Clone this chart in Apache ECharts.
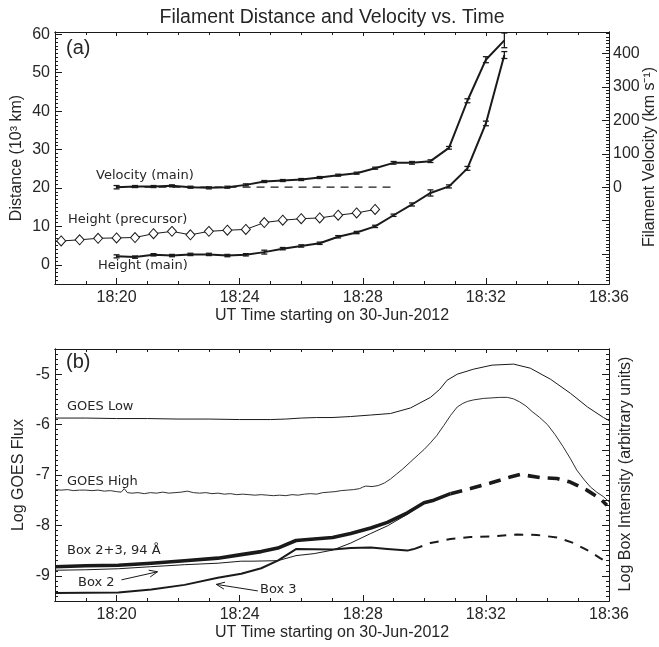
<!DOCTYPE html>
<html>
<head>
<meta charset="utf-8">
<script src="https://cdn.jsdelivr.net/npm/echarts@6/dist/echarts.min.js"></script>
<style>
  html, body { margin: 0; padding: 0; background: #fff; }
  #chart { width: 659px; height: 647px; }
</style>
</head>
<body>
<div id="chart"></div>
<script>
// ---- Panel (a): filament height and velocity, time in minutes after 18:00 UT ----
const mainTimes = [20.0, 20.6, 21.2, 21.8, 22.4, 23.0, 23.6, 24.2, 24.8, 25.4, 26.0,
                   26.6, 27.2, 27.8, 28.4, 29.0, 29.6, 30.2, 30.8, 31.4, 32.0, 32.6];
const heightMain = [2.2, 2.0, 2.6, 2.4, 2.7, 2.7, 2.4, 2.6, 3.3, 4.2, 4.9,
                    5.6, 7.3, 8.4, 10.0, 12.9, 15.7, 18.7, 20.4, 25.1, 36.8, 54.6];
const heightMainErr = [0.4, 0.3, 0.3, 0.3, 0.3, 0.3, 0.3, 0.3, 0.5, 0.3, 0.3,
                       0.3, 0.3, 0.3, 0.3, 0.3, 0.4, 0.8, 0.4, 0.5, 0.6, 0.9];
const velMain = [0, 2, 2, 4, 0, -2, 0, 7, 17, 20, 23,
                 29, 36, 42, 57, 73, 73, 78, 118, 259, 382, 440];
const velMainErr = [5, 3, 3, 3, 3, 3, 3, 3, 3, 3, 3,
                    3, 3, 3, 3, 4, 4, 4, 4, 6, 9, 22];
const preTimes = [18.2, 18.8, 19.4, 20.0, 20.6, 21.2, 21.8, 22.4, 23.0,
                  23.6, 24.2, 24.8, 25.4, 26.0, 26.6, 27.2, 27.8, 28.4];
const heightPre = [6.2, 6.5, 6.9, 7.0, 7.1, 8.1, 8.7, 7.8, 8.7,
                   9.0, 9.2, 11.0, 11.6, 12.0, 12.2, 12.9, 13.5, 14.4];
const zeroVelTimes = [20.0, 28.9];
const zeroVelVals = [0, 0];

// ---- Panel (b): GOES flux and box intensities (log) ----
const goesLowT = [18, 19, 20, 21, 22, 23, 24, 25, 25.5, 26, 26.5, 27, 27.6, 28.26, 28.9,
                  29.55, 30.2, 30.5, 30.74, 31.07, 31.6, 32.2, 32.9, 33.44, 34.1, 34.75,
                  35.3, 35.82, 36];
const goesLowV = [-5.87, -5.87, -5.88, -5.88, -5.89, -5.89, -5.90, -5.90, -5.89, -5.87,
                  -5.86, -5.86, -5.84, -5.81, -5.78, -5.67, -5.46, -5.30, -5.12, -5.00,
                  -4.90, -4.82, -4.80, -4.88, -5.10, -5.38, -5.65, -5.86, -5.92];
const goesHighT = [18.0, 18.2, 18.4, 18.6, 18.8, 19.0, 19.2, 19.4, 19.6, 19.8, 20.0,
                   20.15, 20.25, 20.35,
                   20.5, 20.7, 20.9, 21.1, 21.3, 21.5, 21.7, 21.9, 22.1, 22.3, 22.5, 22.7,
                   22.9, 23.1, 23.3, 23.5, 23.7, 23.9, 24.1, 24.3, 24.5, 24.7, 24.9, 25.1,
                   25.3, 25.5, 25.7, 25.9, 26.1, 26.3, 26.5, 26.7, 26.9, 27.1, 27.3, 27.5,
                   27.7, 27.9,
                   28.0, 28.1, 28.3, 28.5, 28.7, 28.9, 29.1, 29.3,
                   29.55, 29.8, 30.0, 30.2, 30.4, 30.63, 30.85, 31.07, 31.25, 31.4, 31.6, 31.93,
                   32.2, 32.45, 32.7, 32.9, 33.1, 33.3, 33.5, 33.75, 34.0, 34.25, 34.5, 34.75,
                   34.95, 35.2, 35.4, 35.6, 35.82, 36.0];
const goesHighV = [-7.29, -7.30, -7.29, -7.31, -7.30, -7.30, -7.31, -7.30, -7.32, -7.31, -7.33,
                   -7.34, -7.27, -7.35,
                   -7.36, -7.35, -7.37, -7.35, -7.36, -7.34, -7.36, -7.35, -7.34, -7.32, -7.35, -7.36,
                   -7.35, -7.37, -7.36, -7.38, -7.37, -7.39, -7.38, -7.39, -7.40, -7.39, -7.40, -7.41,
                   -7.40, -7.41, -7.39, -7.40, -7.38, -7.37, -7.38, -7.35, -7.34, -7.33, -7.31, -7.30,
                   -7.29, -7.27,
                   -7.24, -7.22, -7.23, -7.21, -7.16, -7.08, -6.98, -6.88,
                   -6.74, -6.60, -6.49, -6.36, -6.22, -6.02, -5.82, -5.65, -5.58, -5.54, -5.51, -5.48,
                   -5.47, -5.46, -5.46, -5.49, -5.55, -5.63, -5.74, -5.86, -6.00, -6.20, -6.43, -6.68,
                   -6.90, -7.10, -7.24, -7.34, -7.43, -7.53];
const box23T = [18.0, 19.0, 20.06, 21.13, 22.21, 23.29, 24.05, 24.7, 25.24, 25.83,
                26.42, 27.02, 27.61, 28.26, 28.8, 29.45, 29.99, 30.31, 30.85];
const box23V = [-8.82, -8.80, -8.79, -8.75, -8.70, -8.65, -8.58, -8.52, -8.45, -8.30,
                -8.27, -8.24, -8.16, -8.05, -7.94, -7.75, -7.55, -7.50, -7.37];
const box23DashT = [30.85, 31.5, 32.15, 32.79, 33.12, 33.77, 34.31, 34.74, 35.28, 35.71, 35.93];
const box23DashV = [-7.37, -7.27, -7.16, -7.04, -6.99, -7.05, -7.07, -7.14, -7.30, -7.47, -7.60];
const box2T = [18.0, 19.0, 20.06, 21.1, 22.2, 23.3, 24.05, 24.4, 25.24, 25.83,
               26.42, 27.02, 27.61, 28.26, 28.8, 29.45, 29.99, 30.3];
const box2V = [-8.89, -8.88, -8.86, -8.82, -8.78, -8.75, -8.71, -8.71, -8.70, -8.60,
               -8.56, -8.49, -8.35, -8.16, -8.01, -7.78, -7.56, -7.51];
const box3T = [18.0, 20.06, 21.13, 22.21, 23.29, 24.05, 24.7, 25.24, 25.83,
               27.02, 27.61, 28.26, 28.8, 29.45, 29.66];
const box3V = [-9.34, -9.33, -9.27, -9.18, -9.04, -8.96, -8.85, -8.70, -8.47,
               -8.48, -8.45, -8.44, -8.47, -8.50, -8.47];
const box3DashT = [29.66, 30.2, 30.85, 31.5, 32.15, 33.01, 33.66, 34.31, 34.85, 35.38, 35.71, 35.9];
const box3DashV = [-8.47, -8.35, -8.27, -8.23, -8.22, -8.18, -8.19, -8.24, -8.35, -8.52, -8.65, -8.72];

// Label arrows: [t start, value start, t tip, value tip]
const box2Arrow = [20.16, -9.08, 21.33, -8.92];
const box3Arrow = [24.59, -9.30, 23.24, -9.17];

// ---- Axis tick values ----
const majorMinutes = [20, 24, 28, 32, 36];
const distTicks = [0, 10, 20, 30, 40, 50, 60];
const velTicks = [-200, -100, 0, 100, 200, 300, 400];
const velLabels = [0, 100, 200, 300, 400];
const fluxTicks = [-9, -8, -7, -6, -5];
const boxTicks = [-9.5, -9, -8.5, -8, -7.5, -7, -6.5, -6, -5.5, -5, -4.5];

const INK = '#1a1a1a';
const TXT = '#262626';
const SANS = '"Liberation Sans", Arial, sans-serif';
const LBL = '"DejaVu Sans", sans-serif';

const zip = (xs, ys) => xs.map((x, i) => [x, ys[i]]);

function xAxesFor(grid) {
  const base = {
    gridIndex: grid, type: 'value', min: 18, max: 36,
    splitLine: { show: false },
    axisLine: { show: true, onZero: false, lineStyle: { color: INK, width: 1 } }
  };
  const tick = (len, extra) => Object.assign({ inside: true, length: len, lineStyle: { color: INK, width: 1 } }, extra || {});
  return [
    Object.assign({}, base, { position: 'bottom', interval: 1, axisTick: tick(3), axisLabel: { show: false } }),
    Object.assign({}, base, {
      position: 'bottom', axisTick: tick(6, { customValues: majorMinutes }),
      axisLabel: { customValues: majorMinutes, formatter: v => '18:' + v, margin: 6,
                   fontSize: 16, fontFamily: SANS, color: TXT }
    }),
    Object.assign({}, base, { position: 'top', interval: 1, axisTick: tick(3), axisLabel: { show: false } }),
    Object.assign({}, base, { position: 'top', axisTick: tick(4, { customValues: majorMinutes }), axisLabel: { show: false } })
  ];
}

function yAxesFor(grid, position, min, max, step, ticks, labels, margin) {
  const base = {
    gridIndex: grid, type: 'value', position: position, min: min, max: max,
    splitLine: { show: false },
    axisLine: { show: true, onZero: false, lineStyle: { color: INK, width: 1 } }
  };
  return [
    Object.assign({}, base, {
      interval: step,
      axisTick: { inside: true, length: 3, lineStyle: { color: INK, width: 1 } },
      axisLabel: { show: false }
    }),
    Object.assign({}, base, {
      axisTick: { inside: true, length: 7, customValues: ticks, lineStyle: { color: INK, width: 1 } },
      axisLabel: labels
        ? { customValues: labels, margin: margin, fontSize: 16, fontFamily: SANS, color: TXT }
        : { show: false }
    })
  ];
}

const xAxis = [].concat(xAxesFor(0), xAxesFor(1));
const yAxis = [].concat(
  yAxesFor(0, 'left', -5, 60.6, 1, distTicks, distTicks, 5),        // 0,1 distance
  yAxesFor(0, 'right', -290, 465, 10, velTicks, velLabels, 4),       // 2,3 velocity
  yAxesFor(1, 'left', -9.5, -4.5, 0.1, fluxTicks, fluxTicks, 5),     // 4,5 GOES flux
  yAxesFor(1, 'right', -9.5, -4.5, 0.1, boxTicks, null, 0)           // 6,7 box intensity
);

function lineSeries(name, xi, yi, data, width, dash) {
  return {
    name: name, type: 'line', xAxisIndex: xi, yAxisIndex: yi, data: data,
    showSymbol: false, symbol: 'none', silent: true, clip: true,
    lineStyle: { color: INK, width: width, type: dash || 'solid', cap: 'butt', join: 'round' },
    z: 3
  };
}

function errorBars(xi, yi, times, vals, errs) {
  return {
    type: 'custom', xAxisIndex: xi, yAxisIndex: yi, clip: true, silent: true, z: 4,
    data: times.map((t, i) => [t, vals[i], errs[i]]),
    encode: { x: 0, y: 1 },
    renderItem(params, api) {
      const x = api.value(0), y = api.value(1), e = api.value(2);
      const lo = api.coord([x, y - e]), hi = api.coord([x, y + e]);
      const w = 3;
      const st = { stroke: INK, lineWidth: 1.3 };
      return {
        type: 'group', children: [
          { type: 'line', shape: { x1: lo[0], y1: lo[1], x2: hi[0], y2: hi[1] }, style: st },
          { type: 'line', shape: { x1: lo[0] - w, y1: lo[1], x2: lo[0] + w, y2: lo[1] }, style: st },
          { type: 'line', shape: { x1: hi[0] - w, y1: hi[1], x2: hi[0] + w, y2: hi[1] }, style: st }
        ]
      };
    }
  };
}

function arrowSeries(xi, yi, arrows) {
  return {
    type: 'custom', xAxisIndex: xi, yAxisIndex: yi, silent: true, z: 5,
    data: arrows,
    encode: { x: [0, 2], y: [1, 3] },
    renderItem(params, api) {
      const a = api.coord([api.value(0), api.value(1)]);
      const b = api.coord([api.value(2), api.value(3)]);
      const ang = Math.atan2(b[1] - a[1], b[0] - a[0]);
      const L = 9, spread = 0.4;
      const h1 = [b[0] - L * Math.cos(ang - spread), b[1] - L * Math.sin(ang - spread)];
      const h2 = [b[0] - L * Math.cos(ang + spread), b[1] - L * Math.sin(ang + spread)];
      const st = { stroke: INK, lineWidth: 1, fill: null };
      return {
        type: 'group', children: [
          { type: 'line', shape: { x1: a[0], y1: a[1], x2: b[0], y2: b[1] }, style: st },
          { type: 'polyline', shape: { points: [h1, b, h2] }, style: st }
        ]
      };
    }
  };
}

const series = [
  // panel (a)
  lineSeries('Zero velocity', 1, 3, zip(zeroVelTimes, zeroVelVals), 1.2, [8, 6]),
  lineSeries('Height (main)', 1, 1, zip(mainTimes, heightMain), 2),
  lineSeries('Velocity (main)', 1, 3, zip(mainTimes, velMain), 2),
  {
    name: 'Height (precursor)', type: 'line', xAxisIndex: 1, yAxisIndex: 1,
    data: zip(preTimes, heightPre), symbol: 'diamond', symbolSize: [9, 10], showSymbol: true,
    silent: true, z: 3,
    lineStyle: { color: INK, width: 1 },
    itemStyle: { color: '#fff', borderColor: INK, borderWidth: 1 }
  },
  errorBars(1, 1, mainTimes, heightMain, heightMainErr),
  errorBars(1, 3, mainTimes, velMain, velMainErr),
  // panel (b)
  lineSeries('GOES Low', 5, 5, zip(goesLowT, goesLowV), 1),
  lineSeries('GOES High', 5, 5, zip(goesHighT, goesHighV), 0.9),
  lineSeries('Box 2', 5, 7, zip(box2T, box2V), 1),
  lineSeries('Box 3', 5, 7, zip(box3T, box3V), 2),
  lineSeries('Box 3 (cont.)', 5, 7, zip(box3DashT, box3DashV), 2, [9, 8]),
  lineSeries('Box 2+3, 94 Å', 5, 7, zip(box23T, box23V), 3.6),
  lineSeries('Box 2+3 (cont.)', 5, 7, zip(box23DashT, box23DashV), 3.6, [12, 8]),
  arrowSeries(5, 7, [box2Arrow, box3Arrow])
];

function txt(x, y, text, size, family, opts) {
  return Object.assign({
    type: 'text', x: x, y: y, silent: true, z: 10,
    style: Object.assign({
      text: text, fontSize: size, fontFamily: family, fill: TXT,
      align: 'left', verticalAlign: 'middle'
    }, (opts && opts.style) || {})
  }, (opts && opts.el) || {});
}
const centered = { style: { align: 'center' } };
const upward = { style: { align: 'center' }, el: { rotation: Math.PI / 2 } };

const graphic = [
  txt(332, 18, 'Filament Distance and Velocity vs. Time', 19.5, SANS, centered),
  txt(66, 48, '(a)', 20, SANS),
  txt(66, 362, '(b)', 20, SANS),
  txt(332, 316, 'UT Time starting on 30-Jun-2012', 16, SANS, centered),
  txt(332, 633, 'UT Time starting on 30-Jun-2012', 16, SANS, centered),
  txt(17, 158, 'Distance (10³ km)', 16, SANS, upward),
  txt(650, 157, 'Filament Velocity (km s⁻¹)', 16, SANS, upward),
  txt(19, 475, 'Log GOES Flux', 16, SANS, upward),
  txt(626, 474, 'Log Box Intensity (arbitrary units)', 16, SANS, upward),
  txt(96, 176, 'Velocity (main)', 13, LBL),
  txt(68, 220, 'Height (precursor)', 13, LBL),
  txt(98, 266, 'Height (main)', 13, LBL),
  txt(67, 407, 'GOES Low', 13, LBL),
  txt(67, 482, 'GOES High', 13, LBL),
  txt(67, 551, 'Box 2+3, 94 Å', 13, LBL),
  txt(78, 583, 'Box 2', 13, LBL),
  txt(260, 590, 'Box 3', 13, LBL)
];

const chart = echarts.init(document.getElementById('chart'), null, { renderer: 'canvas' });
chart.setOption({
  animation: false,
  backgroundColor: '#fff',
  grid: [
    { left: 55, top: 32, width: 554, height: 252 },
    { left: 55, top: 349, width: 554, height: 252 }
  ],
  xAxis: xAxis,
  yAxis: yAxis,
  series: series,
  graphic: graphic
});
</script>
</body>
</html>
